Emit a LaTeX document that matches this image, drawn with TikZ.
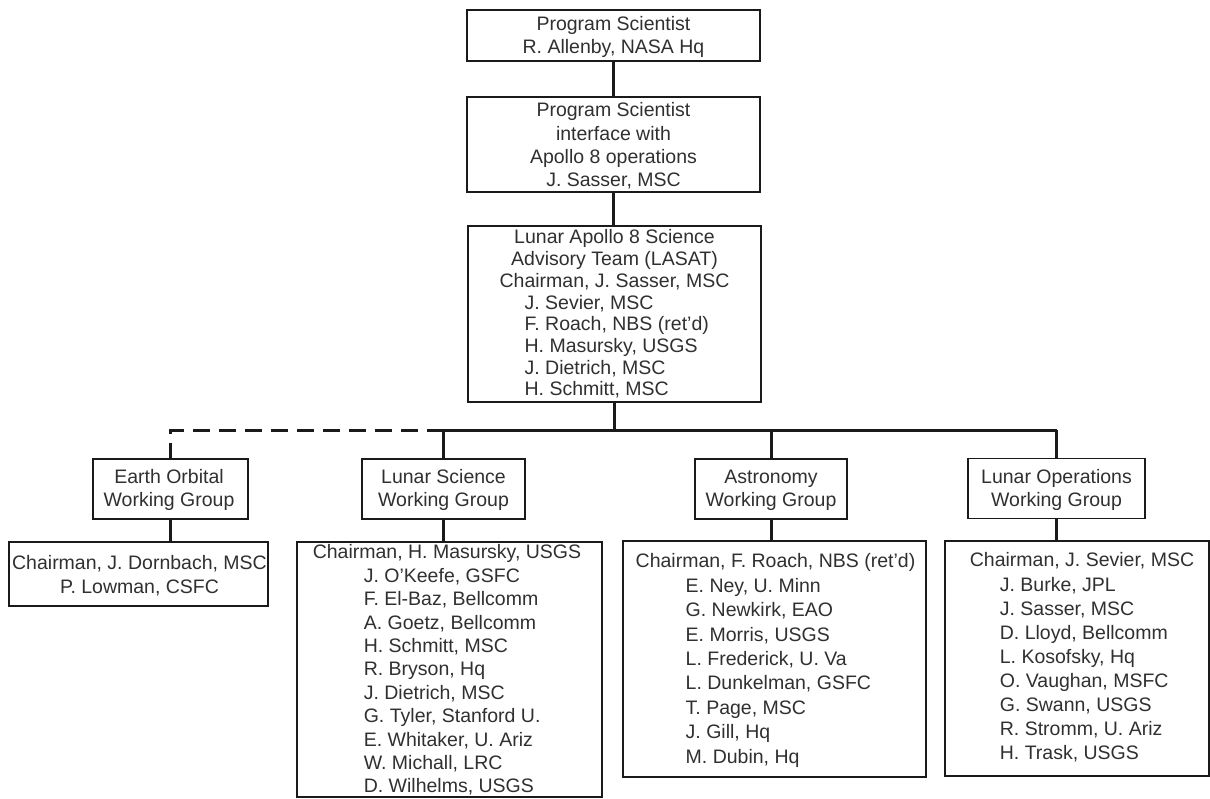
\documentclass[tikz,border=0pt]{standalone}
\usepackage{fontspec}
\setmainfont{Liberation Sans}
\definecolor{ink}{HTML}{1A1A1A}
\definecolor{txtc}{HTML}{303030}
\begin{document}
\begin{tikzpicture}[x=1pt,y=-1pt,
  box/.style={draw=ink, line width=1.5pt, inner sep=0pt},
  txt/.style={inner sep=0pt, outer sep=0pt, text=txtc, anchor=north,
              font=\fontsize{19.5}{#1}\selectfont},
  conn/.style={draw=ink, line width=3pt},
  dashconn/.style={draw=ink, line width=3pt, dash pattern=on 17pt off 9pt}]
\path[use as bounding box, fill=white] (0,0) rectangle (1210,798);

% top chain
\node[box, minimum width=293pt, minimum height=51pt] (ps) at (613.5,35.5) {};
\node[txt=23] (pst) at (613.5,13.9) {\begin{tabular}{@{}c@{}}Program Scientist\\R. Allenby, NASA Hq\end{tabular}};

\node[box, minimum width=293pt, minimum height=95pt] (psi) at (613.5,144.5) {};
\node[txt=23.3] (psit) at (613.5,100.4) {\begin{tabular}{@{}c@{}}Program Scientist\\interface with\\Apollo 8 operations\\J. Sasser, MSC\end{tabular}};

\node[box, minimum width=293pt, minimum height=176pt] (las) at (614.5,314) {};
\node[txt=21.7] (last) at (614.5,228.8) {\begin{tabular}{@{}l@{}}
\multicolumn{1}{@{}c@{}}{Lunar Apollo 8 Science}\\
\multicolumn{1}{@{}c@{}}{Advisory Team (LASAT)}\\
Chairman, J. Sasser, MSC\\
\hspace*{25pt}J. Sevier, MSC\\
\hspace*{25pt}F. Roach, NBS (ret'd)\\
\hspace*{25pt}H. Masursky, USGS\\
\hspace*{25pt}J. Dietrich, MSC\\
\hspace*{25pt}H. Schmitt, MSC\end{tabular}};

% working groups
\node[box, minimum width=155pt, minimum height=60pt] (eo) at (170.5,489) {};
\node[txt=23] (eot) at (169,467.4) {\begin{tabular}{@{}c@{}}Earth Orbital\\Working Group\end{tabular}};
\node[box, minimum width=163pt, minimum height=60pt] (ls) at (443.5,489) {};
\node[txt=23] (lst) at (443.5,467.4) {\begin{tabular}{@{}c@{}}Lunar Science\\Working Group\end{tabular}};
\node[box, minimum width=152pt, minimum height=60pt] (as) at (771,489) {};
\node[txt=23] (ast) at (771,467.4) {\begin{tabular}{@{}c@{}}Astronomy\\Working Group\end{tabular}};
\node[box, minimum width=177pt, minimum height=60pt] (lo) at (1056.5,488.5) {};
\node[txt=23] (lot) at (1056.5,467.4) {\begin{tabular}{@{}c@{}}Lunar Operations\\Working Group\end{tabular}};

% member boxes
\node[box, minimum width=259pt, minimum height=64pt] (eod) at (138.5,574) {};
\node[txt=24] (eodt) at (139.5,552.2) {\begin{tabular}{@{}c@{}}Chairman, J. Dornbach, MSC\\P. Lowman, CSFC\end{tabular}};

\node[box, minimum width=305pt, minimum height=255pt] (lsd) at (449.5,669.5) {};
\node[txt=23.4] (lsdt) at (447,542.6) {\begin{tabular}{@{}l@{}}
Chairman, H. Masursky, USGS\\
\hspace*{51pt}J. O'Keefe, GSFC\\
\hspace*{51pt}F. El-Baz, Bellcomm\\
\hspace*{51pt}A. Goetz, Bellcomm\\
\hspace*{51pt}H. Schmitt, MSC\\
\hspace*{51pt}R. Bryson, Hq\\
\hspace*{51pt}J. Dietrich, MSC\\
\hspace*{51pt}G. Tyler, Stanford U.\\
\hspace*{51pt}E. Whitaker, U. Ariz\\
\hspace*{51pt}W. Michall, LRC\\
\hspace*{51pt}D. Wilhelms, USGS\end{tabular}};

\node[box, minimum width=303pt, minimum height=236pt] (asd) at (774.5,659) {};
\node[txt=24.4] (asdt) at (775.5,550.9) {\begin{tabular}{@{}l@{}}
Chairman, F. Roach, NBS (ret'd)\\
\hspace*{50pt}E. Ney, U. Minn\\
\hspace*{50pt}G. Newkirk, EAO\\
\hspace*{50pt}E. Morris, USGS\\
\hspace*{50pt}L. Frederick, U. Va\\
\hspace*{50pt}L. Dunkelman, GSFC\\
\hspace*{50pt}T. Page, MSC\\
\hspace*{50pt}J. Gill, Hq\\
\hspace*{50pt}M. Dubin, Hq\end{tabular}};

\node[box, minimum width=264pt, minimum height=235pt] (lod) at (1077,658.5) {};
\node[txt=24.1] (lodt) at (1082,550.1) {\begin{tabular}{@{}l@{}}
Chairman, J. Sevier, MSC\\
\hspace*{30pt}J. Burke, JPL\\
\hspace*{30pt}J. Sasser, MSC\\
\hspace*{30pt}D. Lloyd, Bellcomm\\
\hspace*{30pt}L. Kosofsky, Hq\\
\hspace*{30pt}O. Vaughan, MSFC\\
\hspace*{30pt}G. Swann, USGS\\
\hspace*{30pt}R. Stromm, U. Ariz\\
\hspace*{30pt}H. Trask, USGS\end{tabular}};

% connectors
\coordinate (bus) at (614,430);
\draw[conn] (ps.south) -- (psi.north);
\draw[conn] (psi.south) -- (psi.south |- las.north);
\draw[conn] (las.south) -- (las.south |- bus);
\draw[conn] (ls.north |- bus) -- (lo.north |- bus);
\draw[dashconn] (ls.north |- bus) -- (eo.north |- bus) -- (eo.north);
\draw[conn] (ls.north |- bus) -- (ls.north);
\draw[conn] (as.north |- bus) -- (as.north);
\draw[conn] (lo.north |- bus) -- (lo.north);
\draw[conn] (eo.south) -- (eo.south |- eod.north);
\draw[conn] (ls.south) -- (ls.south |- lsd.north);
\draw[conn] (as.south) -- (as.south |- asd.north);
\draw[conn] (lo.south) -- (lo.south |- lod.north);
\end{tikzpicture}
\end{document}
